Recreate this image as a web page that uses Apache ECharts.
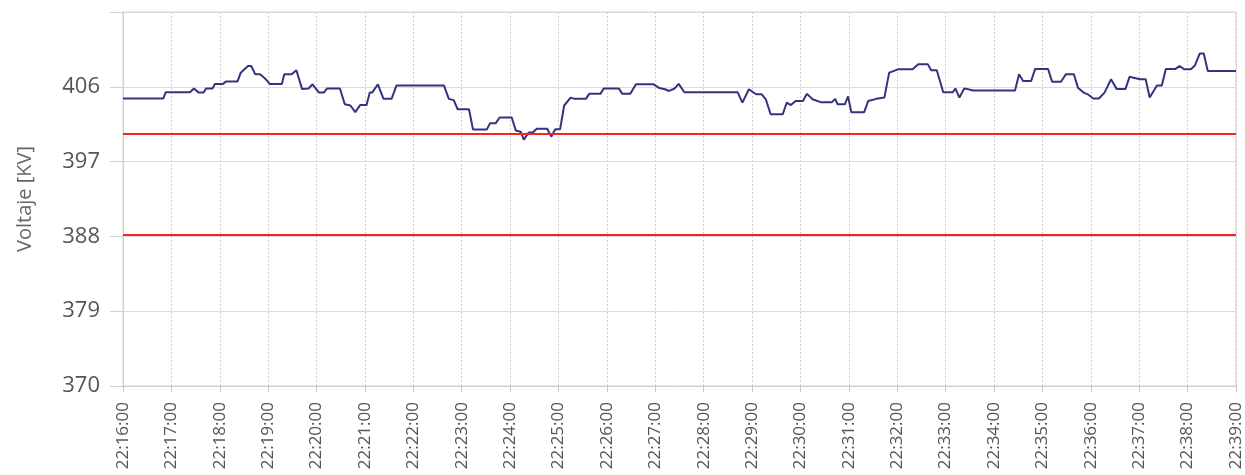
<!DOCTYPE html>
<html>
<head>
<meta charset="utf-8">
<script src="https://cdn.jsdelivr.net/npm/echarts@6/dist/echarts.min.js"></script>
<style>html,body{margin:0;padding:0;background:#fff}#c{width:1245px;height:475px}</style>
</head>
<body>
<div id="c"></div>
<script>
// seconds after 22:16:00
const secs = [0,50,53,83,88,94,100,103,111,114,124,128,142,146,155,159,164,170,175,178,182,197,200,209,215,222,230,235,236,243,249,253,269,275,282,288,294,302,306,309,316,323,333,339,398,404,410,415,429,434,451,455,462,467,482,487,493,497,503,508,513,526,531,536,542,547,555,560,574,578,592,596,615,619,629,636,658,665,672,677,684,689,696,762,768,776,785,792,797,803,818,823,828,834,843,848,855,865,879,883,886,895,899,903,919,924,934,944,950,961,979,986,998,1002,1009,1017,1029,1032,1037,1043,1046,1054,1106,1111,1116,1126,1131,1147,1152,1163,1169,1179,1184,1191,1197,1203,1210,1217,1225,1232,1243,1248,1261,1268,1273,1282,1288,1293,1305,1310,1316,1324,1329,1335,1340,1345,1380];
const volts = [404.6,404.6,405.35,405.35,405.8,405.3,405.3,405.8,405.8,406.35,406.35,406.65,406.65,407.7,408.5,408.5,407.5,407.5,407.1,406.8,406.35,406.35,407.5,407.5,408.0,405.75,405.8,406.3,406.3,405.3,405.3,405.8,405.8,403.9,403.75,402.95,403.8,403.8,405.3,405.3,406.3,404.55,404.55,406.15,406.15,404.55,404.4,403.3,403.3,400.85,400.85,401.6,401.6,402.3,402.3,400.75,400.6,399.65,400.5,400.5,400.95,400.95,400.0,400.9,400.9,403.75,404.7,404.55,404.55,405.15,405.15,405.8,405.8,405.15,405.15,406.3,406.3,405.85,405.7,405.5,405.8,406.35,405.35,405.35,404.1,405.7,405.1,405.1,404.5,402.7,402.7,404.1,403.8,404.3,404.3,405.15,404.5,404.15,404.15,404.55,403.9,403.9,404.85,402.95,402.95,404.3,404.55,404.7,407.7,408.1,408.1,408.7,408.7,408.0,408.0,405.35,405.35,405.8,404.7,405.8,405.75,405.55,405.55,407.5,406.7,406.7,408.15,408.15,406.6,406.6,407.5,407.5,405.9,405.3,405.05,404.6,404.6,405.3,406.9,405.75,405.75,407.2,406.9,406.9,404.7,406.15,406.15,408.15,408.15,408.5,408.1,408.1,408.55,410.0,410.0,407.9,407.9];
const limits = [400.4, 388.2];
const yTicks = [370, 379, 388, 397, 406];
const startHour = 22, startMin = 16;

function pad(n){return (n<10?'0':'')+n;}
function clock(s){
  const tot = startHour*3600 + startMin*60 + s;
  return pad(Math.floor(tot/3600)) + ':' + pad(Math.floor((tot%3600)/60)) + ':' + pad(tot%60);
}

const chart = echarts.init(document.getElementById('c'), null, {renderer:'canvas'});
chart.setOption({
  animation:false,
  backgroundColor:'#fff',
  grid:{left:123, right:9, top:12, bottom:89, show:true, borderColor:'#d0d0d0', borderWidth:1},
  xAxis:{
    type:'value', min:0, max:1380, interval:60,
    axisLine:{show:true, lineStyle:{color:'#d0d0d0'}},
    axisTick:{show:true, length:6, lineStyle:{color:'#c8c8c8'}},
    axisLabel:{rotate:90, margin:16, color:'#555', fontSize:17, fontFamily:'Open Sans', formatter:function(v){return clock(v);}},
    splitLine:{show:true, lineStyle:{color:'#cfcfcf', type:[2,2], width:1}}
  },
  yAxis:{
    type:'value', min:370, max:415, interval:9,
    name:'Voltaje [KV]', nameLocation:'middle', nameGap:88, nameRotate:90,
    nameTextStyle:{color:'#666', fontSize:20, fontFamily:'Open Sans'},
    axisLine:{show:true, lineStyle:{color:'#d0d0d0'}},
    axisTick:{show:true, length:13, lineStyle:{color:'#d0d0d0'}},
    axisLabel:{margin:23, color:'#555', fontSize:22, fontFamily:'Open Sans', formatter:function(v){return yTicks.indexOf(v)>=0? String(v):'';}},
    splitLine:{show:true, lineStyle:{color:'#dcdcdc', width:1}}
  },
  series:[{
    type:'line',
    data: secs.map((s,i)=>[s, volts[i]]),
    showSymbol:false,
    lineStyle:{color:'#33337f', width:2},
    itemStyle:{color:'#33337f'},
    markLine:{
      silent:true, symbol:'none', label:{show:false},
      lineStyle:{color:'#ff2020', width:2, type:'solid'},
      data: limits.map(v=>({yAxis:v}))
    }
  }]
});
</script>
</body>
</html>
